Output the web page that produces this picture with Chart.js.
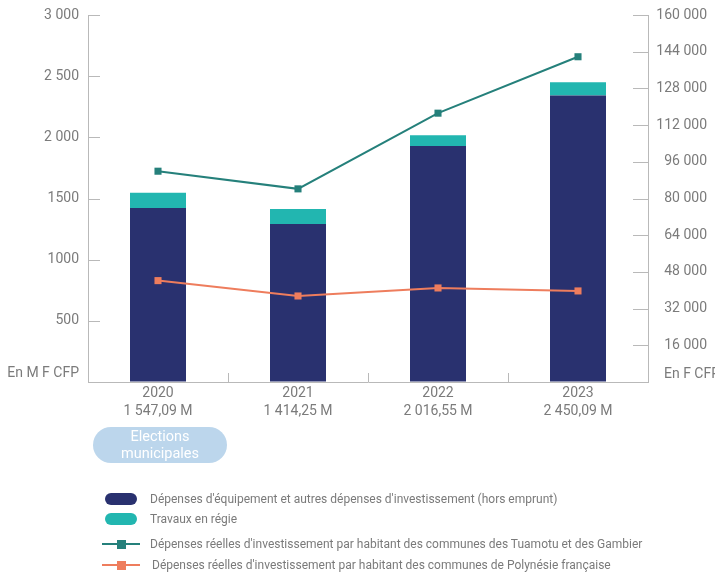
<!DOCTYPE html>
<html>
<head>
<meta charset="utf-8">
<script src="https://cdn.jsdelivr.net/npm/chart.js@4.4.1/dist/chart.umd.min.js"></script>
<style>
  html, body { margin: 0; padding: 0; background: #ffffff; }
  #wrap { position: relative; width: 715px; height: 573px; overflow: hidden; font-family: Roboto, "Noto Sans", sans-serif; }
  #chart { position: absolute; left: 0; top: 0; }
  .pill { position: absolute; left: 93px; top: 427px; width: 134px; height: 36px; border-radius: 18px; background: #bcd6ec; color: #ffffff; font-size: 14.5px; line-height: 17px; text-align: center; display: flex; flex-direction: column; justify-content: center; }
  .row { position: absolute; font-size: 12px; color: #7a7a7a; white-space: nowrap; line-height: 14px; }
  .sw { position: absolute; }
  .swpill { width: 32px; height: 12px; border-radius: 6px; }
  .swline { height: 2px; width: 38px; }
  .swsq { width: 9px; height: 9px; }
</style>
</head>
<body>
<div id="wrap">
  <canvas id="chart" width="715" height="573"></canvas>
  <div class="pill"><span>Elections</span><span>municipales</span></div>
  <div id="legend"></div>
</div>
<script>
// ---- data ----
const categories = ['2020', '2021', '2022', '2023'];
const totalLabels = ['1 547,09 M', '1 414,25 M', '2 016,55 M', '2 450,09 M'];
const equipement = [1422, 1292, 1930, 2341];
const travauxRegie = [125, 122, 87, 109];
const tuamotuParHabitant = [91900, 84200, 117200, 141800];
const polynesieParHabitant = [44200, 37500, 41000, 39700];
const leftUnit = 'En M F CFP';
const rightUnit = 'En F CFP';
const seriesNames = [
  "Dépenses d'équipement et autres dépenses d'investissement (hors emprunt)",
  'Travaux en régie',
  "Dépenses réelles d'investissement par habitant des communes des Tuamotu et des Gambier",
  "Dépenses réelles d'investissement par habitant des communes de Polynésie française"
];
const leftTickLabels = { 500: '500', 1000: '1000', 1500: '1500', 2000: '2 000', 2500: '2 500', 3000: '3 000' };

const NAVY = '#29316f', TEAL = '#22b6b0', TEAL_LINE = '#25807b', ORANGE = '#ee7d5d';
const AXIS = '#b9b9b9', TXT = '#7b7b7b';

function spaced(v) { return String(v).replace(/\B(?=(\d{3})+(?!\d))/g, ' '); }

const decor = {
  id: 'decor',
  afterDraw(chart) {
    const ctx = chart.ctx;
    const y = chart.scales.y, y2 = chart.scales.y2, x = chart.scales.x;
    const ca = chart.chartArea;
    ctx.save();
    ctx.strokeStyle = AXIS;
    ctx.lineWidth = 1;
    y.ticks.forEach(t => {
      if (t.value === 0) return;
      const py = Math.round(y.getPixelForValue(t.value)) + 0.5;
      ctx.beginPath(); ctx.moveTo(ca.left, py); ctx.lineTo(ca.left + 12, py); ctx.stroke();
    });
    y2.ticks.forEach(t => {
      if (t.value === 0) return;
      const py = Math.round(y2.getPixelForValue(t.value)) + 0.5;
      ctx.beginPath(); ctx.moveTo(ca.right - 15, py); ctx.lineTo(ca.right, py); ctx.stroke();
    });
    for (let i = 0; i < categories.length - 1; i++) {
      const px = Math.round((x.getPixelForValue(i) + x.getPixelForValue(i + 1)) / 2) + 0.5;
      ctx.beginPath(); ctx.moveTo(px, ca.bottom); ctx.lineTo(px, ca.bottom - 9); ctx.stroke();
    }
    ctx.fillStyle = TXT;
    ctx.font = '14px Roboto';
    ctx.textBaseline = 'middle';
    ctx.textAlign = 'right';
    ctx.fillText(leftUnit, ca.left - 9, ca.bottom - 8.5);
    ctx.textAlign = 'left';
    ctx.fillText(rightUnit, ca.right + 16, ca.bottom - 7.5);
    ctx.restore();
  }
};

new Chart(document.getElementById('chart'), {
  data: {
    labels: categories.map((c, i) => [c, totalLabels[i]]),
    datasets: [
      { type: 'line', label: seriesNames[2], data: tuamotuParHabitant, yAxisID: 'y2', order: 0,
        borderColor: TEAL_LINE, backgroundColor: TEAL_LINE, borderWidth: 2, pointStyle: 'rect', pointRadius: 5, pointBorderWidth: 0, tension: 0 },
      { type: 'line', label: seriesNames[3], data: polynesieParHabitant, yAxisID: 'y2', order: 0,
        borderColor: ORANGE, backgroundColor: ORANGE, borderWidth: 2, pointStyle: 'rect', pointRadius: 5, pointBorderWidth: 0, tension: 0 },
      { type: 'bar', label: seriesNames[0], data: equipement, yAxisID: 'y', order: 1, stack: 's',
        backgroundColor: NAVY, categoryPercentage: 1, barPercentage: 0.4 },
      { type: 'bar', label: seriesNames[1], data: travauxRegie, yAxisID: 'y', order: 1, stack: 's',
        backgroundColor: TEAL, categoryPercentage: 1, barPercentage: 0.4 }
    ]
  },
  options: {
    responsive: false,
    animation: false,
    layout: { padding: { left: 0, right: 8, top: 15, bottom: 0 } },
    plugins: { legend: { display: false }, tooltip: { enabled: false } },
    scales: {
      x: {
        stacked: true,
        grid: { drawOnChartArea: false, drawTicks: false },
        border: { display: true, color: AXIS, width: 1 },
        ticks: { color: TXT, font: { family: 'Roboto', size: 14, lineHeight: 1.28 }, padding: 3, maxRotation: 0, autoSkip: false },
        afterFit(s) { s.height = 191; s.paddingLeft = 0; s.paddingRight = 0; }
      },
      y: {
        position: 'left', stacked: true, min: 0, max: 3000,
        grid: { drawOnChartArea: false, drawTicks: false },
        border: { display: true, color: AXIS, width: 1 },
        ticks: { stepSize: 500, color: TXT, font: { family: 'Roboto', size: 14 }, padding: 9,
          callback: v => leftTickLabels[v] || '' },
        afterFit(s) { s.width = 88; s.paddingTop = 0; s.paddingBottom = 0; }
      },
      y2: {
        position: 'right', min: 0, max: 160000,
        grid: { drawOnChartArea: false, drawTicks: false },
        border: { display: true, color: AXIS, width: 1 },
        ticks: { stepSize: 16000, color: TXT, font: { family: 'Roboto', size: 14 }, padding: 9, crossAlign: 'far',
          callback: v => v === 0 ? '' : spaced(v) },
        afterFit(s) { s.width = 59; s.paddingTop = 0; s.paddingBottom = 0; }
      }
    }
  },
  plugins: [decor]
});

const legendRows = [
  { y: 499, kind: 'pill', color: NAVY, left: 150 },
  { y: 519, kind: 'pill', color: TEAL, left: 150 },
  { y: 544, kind: 'line', color: TEAL_LINE, left: 150 },
  { y: 565, kind: 'line', color: ORANGE, left: 152 }
];
const lg = document.getElementById('legend');
legendRows.forEach((r, i) => {
  if (r.kind === 'pill') {
    const s = document.createElement('div');
    s.className = 'sw swpill';
    s.style.left = '105px'; s.style.top = (r.y - 6) + 'px'; s.style.background = r.color;
    lg.appendChild(s);
  } else {
    const l = document.createElement('div');
    l.className = 'sw swline';
    l.style.left = '102px'; l.style.top = (r.y - 1) + 'px'; l.style.background = r.color;
    lg.appendChild(l);
    const q = document.createElement('div');
    q.className = 'sw swsq';
    q.style.left = '117px'; q.style.top = (r.y - 4.5) + 'px'; q.style.background = r.color;
    lg.appendChild(q);
  }
  const t = document.createElement('div');
  t.className = 'row';
  t.style.left = r.left + 'px'; t.style.top = (r.y - 7) + 'px';
  t.textContent = seriesNames[i];
  lg.appendChild(t);
});
</script>
</body>
</html>
